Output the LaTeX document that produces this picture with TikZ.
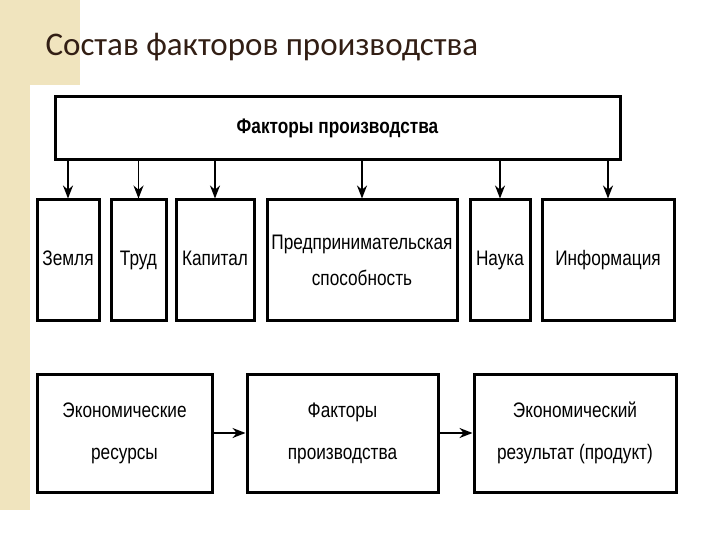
\documentclass[tikz,border=0pt]{standalone}
\usepackage{fontspec}
\setmainfont{Liberation Sans}
\newfontfamily\titlefont{Carlito}
\usetikzlibrary{arrows.meta}
\definecolor{beige}{RGB}{240,228,190}
\definecolor{titlec}{RGB}{50,30,20}
\tikzset{
  box/.style={draw=black,line width=3pt,fill=white,align=center,inner sep=0pt},
  lbl/.style={align=center,inner sep=0pt,font=\fontsize{21}{36}\selectfont,xscale=0.82},
  arr/.style={-{Stealth[length=13pt,width=10pt]},line width=1.8pt}
}
\begin{document}
\begin{tikzpicture}[x=1pt,y=-1pt]
\useasboundingbox (0,0) rectangle (720,540);
\fill[beige] (0,0) rectangle (80,85);
\fill[beige] (0,85) rectangle (30,510);
\node[anchor=west,text=titlec,font=\titlefont\fontsize{33}{36}\selectfont] (title) at (42,47) {Состав факторов производства};
\node[box,minimum width=565pt,minimum height=63pt] (top) at (337.5,128.5) {};
\node[lbl,font=\bfseries\fontsize{21}{27}\selectfont] (toplbl) at (top.center) {Факторы производства};
\node[box,minimum width=62pt,minimum height=120pt] (b1) at (68,260) {};
\node[box,minimum width=55pt,minimum height=120pt] (b2) at (138.5,260) {};
\node[box,minimum width=78pt,minimum height=120pt] (b3) at (215,260) {};
\node[box,minimum width=190pt,minimum height=120pt] (b4) at (362,260) {};
\node[box,minimum width=60pt,minimum height=120pt] (b5) at (500,260) {};
\node[box,minimum width=132pt,minimum height=120pt] (b6) at (608,260) {};
\node[lbl,text height=15pt,text depth=4pt] (l1) at (b1.center) {Земля};
\node[lbl,text height=15pt,text depth=4pt] (l2) at (b2.center) {Труд};
\node[lbl,text height=15pt,text depth=4pt] (l3) at (b3.center) {Капитал};
\node[lbl] (l4) at (b4.center) {Предпринимательская\\способность};
\node[lbl,text height=15pt,text depth=4pt] (l5) at (b5.center) {Наука};
\node[lbl,text height=15pt,text depth=4pt] (l6) at (b6.center) {Информация};
\foreach \b in {b1,b2,b3,b4,b5,b6}{
  \draw[arr] (top.south -| \b.north) -- (\b.north);
}
\node[box,minimum width=175pt,minimum height=118pt] (c1) at (124.5,433) {};
\node[box,minimum width=191pt,minimum height=118pt] (c2) at (342.5,433) {};
\node[box,minimum width=202pt,minimum height=118pt] (c3) at (575,433) {};
\node[lbl,font=\fontsize{21}{42}\selectfont] (m1) at (c1.center) {Экономические\\ресурсы};
\node[lbl,font=\fontsize{21}{42}\selectfont] (m2) at (c2.center) {Факторы\\производства};
\node[lbl,font=\fontsize{21}{42}\selectfont] (m3) at (c3.center) {Экономический\\результат (продукт)};
\draw[arr] (c1.east) -- (c2.west);
\draw[arr] (c2.east) -- (c3.west);
\end{tikzpicture}
\end{document}
